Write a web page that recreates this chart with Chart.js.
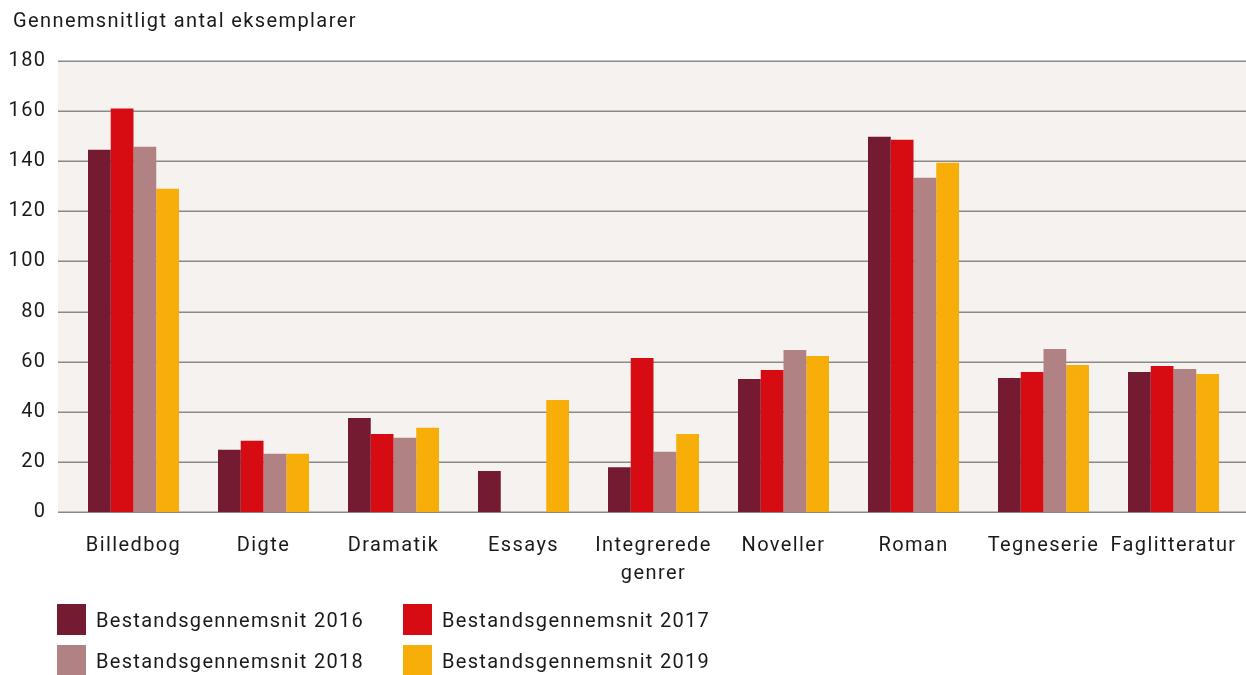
<!DOCTYPE html>
<html>
<head>
<meta charset="utf-8">
<script src="https://cdn.jsdelivr.net/npm/chart.js@4/dist/chart.umd.min.js"></script>
<style>
  body { margin: 0; background: #fff; font-family: Roboto, sans-serif; }
  #wrap { position: relative; width: 1246px; height: 675px; }
  #legend { position: absolute; left: 57px; top: 604px; width: 700px; }
  .item { position: absolute; display: flex; align-items: center; font-size: 20px; color: #1a1a1a; letter-spacing: 1.3px; }
  .box { width: 29px; height: 31px; margin-right: 10px; }
</style>
</head>
<body>
<div id="wrap">
  <canvas id="chart" width="1246" height="675"></canvas>
  <div id="legend"></div>
</div>
<script>
const categories = ['Billedbog', 'Digte', 'Dramatik', 'Essays', ['Integrerede', 'genrer'], 'Noveller', 'Roman', 'Tegneserie', 'Faglitteratur'];
const yearLabels = ['Bestandsgennemsnit 2016', 'Bestandsgennemsnit 2017', 'Bestandsgennemsnit 2018', 'Bestandsgennemsnit 2019'];
const values2016 = [144.6, 24.8, 37.5, 16.4, 17.9, 53.1, 149.8, 53.5, 55.9];
const values2017 = [161, 28.4, 31.1, null, 61.5, 56.7, 148.6, 55.9, 58.3];
const values2018 = [145.8, 23.2, 29.6, null, 24, 64.7, 133.4, 65.1, 57.1];
const values2019 = [129, 23.2, 33.6, 44.7, 31.1, 62.3, 139.4, 58.7, 55.1];
const yTicks = [0, 20, 40, 60, 80, 100, 120, 140, 160, 180];
const colors = ['#741b32', '#d70b12', '#b18283', '#f8ae08'];

const seriesValues = [values2016, values2017, values2018, values2019];

// background panel, gridlines and axis title
const panel = {
  id: 'panel',
  beforeLayout(chart) {
    // the original font is a bit wider than Roboto
    chart.ctx.letterSpacing = '1.4px';
  },
  beforeDraw(chart) {
    chart.ctx.letterSpacing = '1.4px';
  },
  beforeDatasetsDraw(chart) {
    const ctx = chart.ctx;
    const y = chart.scales.y;
    const top = y.getPixelForValue(180);
    const bottom = y.getPixelForValue(0);
    ctx.save();
    ctx.fillStyle = '#f6f2ef';
    ctx.fillRect(58, top, 1246 - 58, bottom - top);
    ctx.strokeStyle = '#8a8a8a';
    ctx.lineWidth = 1.5;
    yTicks.forEach(v => {
      const py = Math.round(y.getPixelForValue(v)) + 0.25;
      ctx.beginPath();
      ctx.moveTo(58, py);
      ctx.lineTo(1246, py);
      ctx.stroke();
    });
    ctx.restore();
  },
  afterDraw(chart) {
    const ctx = chart.ctx;
    ctx.save();
    ctx.fillStyle = '#1a1a1a';
    ctx.font = '20px Roboto';
    ctx.letterSpacing = '1.4px';
    ctx.textAlign = 'left';
    ctx.textBaseline = 'middle';
    ctx.fillText('Gennemsnitligt antal eksemplarer', 13, 22);
    ctx.restore();
  }
};

const chart = new Chart(document.getElementById('chart'), {
  type: 'bar',
  data: {
    labels: categories,
    datasets: seriesValues.map((vals, i) => ({
      label: yearLabels[i],
      data: vals,
      backgroundColor: colors[i],
      borderWidth: 0,
      categoryPercentage: 0.7,
      barPercentage: 1.0
    }))
  },
  options: {
    responsive: false,
    animation: false,
    layout: { padding: { top: 61, right: 7.5, left: 0, bottom: 0 } },
    plugins: {
      legend: { display: false },
      tooltip: { enabled: false }
    },
    scales: {
      x: {
        grid: { display: false, drawTicks: false },
        border: { display: false },
        ticks: {
          color: '#1a1a1a',
          font: { family: 'Roboto', size: 20, lineHeight: 1.4 },
          padding: 20,
          maxRotation: 0,
          autoSkip: false
        },
        afterFit(scale) {
          scale.height = 163;
          scale.paddingLeft = 0;
          scale.paddingRight = 0;
        }
      },
      y: {
        min: 0,
        max: 180,
        grid: { display: false, drawTicks: false },
        border: { display: false },
        ticks: {
          stepSize: 20,
          color: '#1a1a1a',
          font: { family: 'Roboto', size: 20 },
          padding: 22
        },
        afterFit(scale) { scale.width = 68.5; }
      }
    }
  },
  plugins: [panel]
});

// legend laid out as 2x2 grid
const legend = document.getElementById('legend');
chart.data.datasets.forEach((ds, i) => {
  const item = document.createElement('div');
  item.className = 'item';
  item.style.left = (i % 2) * 346 + 'px';
  item.style.top = Math.floor(i / 2) * 41 + 'px';
  item.innerHTML = '<div class="box" style="background:' + ds.backgroundColor + '"></div><span>' + ds.label + '</span>';
  legend.appendChild(item);
});
</script>
</body>
</html>
